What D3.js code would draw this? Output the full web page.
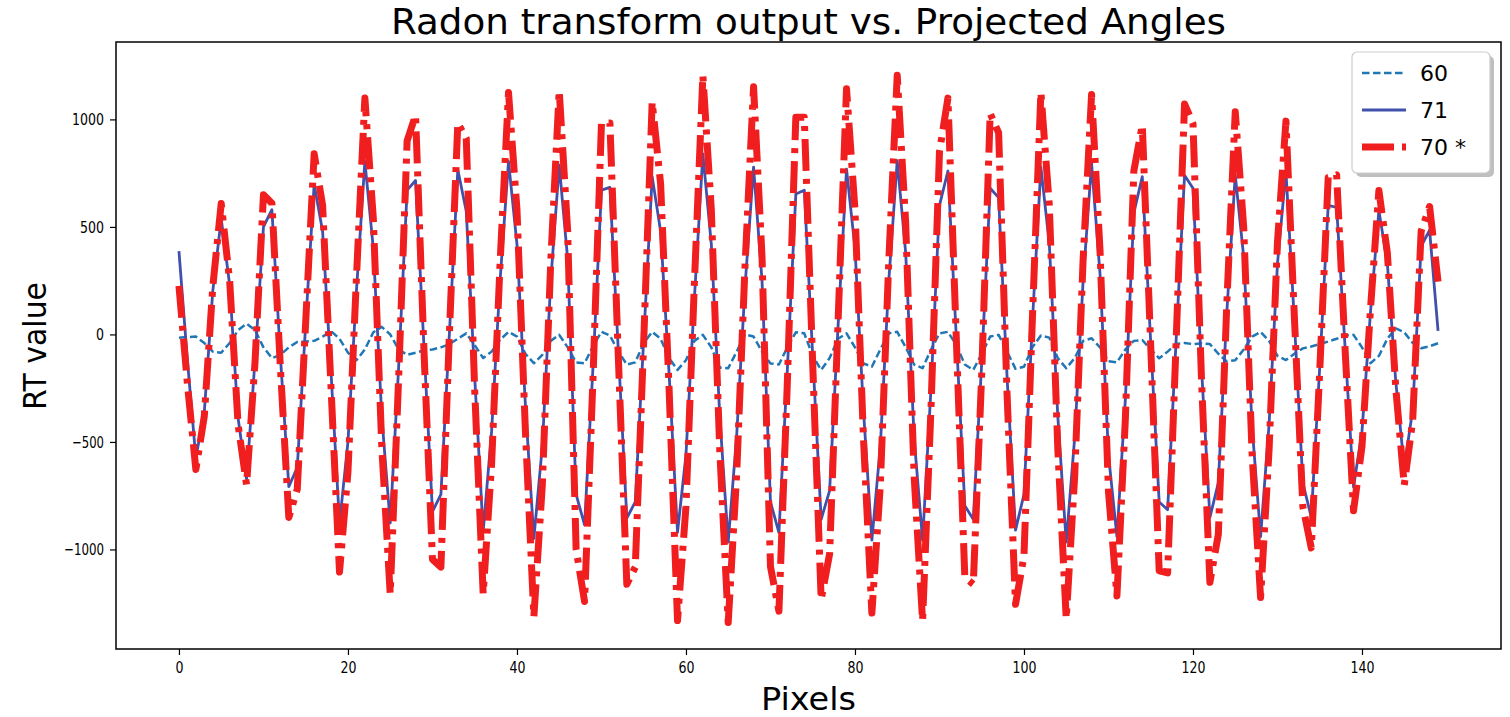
<!DOCTYPE html>
<html>
<head>
<meta charset="utf-8" />
<title>Radon transform output vs. Projected Angles</title>
<script src="https://d3js.org/d3.v7.min.js"></script>
<style>
	body { margin: 0; background: #fff; }
	text { font-family: "DejaVu Sans", sans-serif; }
</style>
</head>
<body>
<div id="chart"></div>
<script>

// x positions (pixels 0..149)
var pixels = d3.range(0, 150);

// angle 60 (dashed)
var rt60 = [
	-15, -12, -10, -40, -80, -85, -40, 20, 50, 20,
	-60, -110, -95, -60, -35, -33, -30, -10, 15, -20,
	-85, -120, -70, 10, 35, 0, -70, -95, -85, -75,
	-70, -60, -45, -20, 5, -50, -110, -80, -25, 12,
	-10, -90, -134, -95, -30, -2, -60, -130, -134, -55,
	12, -5, -80, -140, -130, -40, 12, -20, -110, -165,
	-120, -30, -2, -60, -155, -157, -80, 0, -10, -80,
	-135, -140, -60, 10, 5, -100, -165, -110, -20, 5,
	-60, -135, -150, -70, 5, 12, -60, -140, -157, -70,
	5, 12, -50, -140, -165, -90, -10, -2, -80, -160,
	-150, -60, -5, -15, -110, -157, -110, -30, -18, -60,
	-125, -130, -70, -30, -26, -70, -111, -80, -45, -40,
	-45, -42, -45, -90, -126, -120, -70, -10, 12, -30,
	-100, -119, -90, -65, -56, -45, -33, -20, -5, -2,
	-60, -134, -100, -20, 28, 10, -40, -64, -55, -41
];

// angle 71 (solid)
var rt71 = [
	387, -120, -575, -360, 200, 538, 230, -390, -673, -120,
	500, 580, -100, -708, -619, 50, 698, 480, -180, -880,
	-500, 200, 805, 400, -380, -877, -150, 671, 716, -60,
	-824, -744, 0, 766, 573, -200, -918, -450, 250, 805,
	420, -330, -949, -520, 250, 787, 350, -744, -886, -150,
	671, 684, -80, -854, -779, -20, 734, 480, -180, -920,
	-560, 170, 840, 420, -380, -966, -470, 230, 778, 250,
	-779, -922, -160, 653, 671, -100, -860, -726, 40, 769,
	400, -350, -957, -520, 250, 808, 380, -480, -957, -250,
	600, 760, -20, -797, -860, -130, 680, 636, -200, -910,
	-744, 60, 778, 420, -380, -966, -480, 250, 796, 280,
	-560, -940, -300, 565, 734, -40, -779, -815, -30, 740,
	680, -150, -851, -690, 100, 742, 360, -430, -940, -420,
	330, 760, 60, -690, -851, -150, 600, 591, -60, -710,
	-450, 100, 577, 330, -220, -618, -350, 410, 485, 16
];

// angle 70 * (dash-dot)
var rt70 = [
	226, -230, -628, -380, 220, 609, 250, -420, -699, -130,
	650, 610, -150, -851, -720, 60, 840, 600, -250, -1105,
	-640, 260, 1099, 540, -520, -1207, -200, 900, 1020, -80,
	-1046, -1082, 0, 983, 912, -260, -1207, -600, 330, 1125,
	580, -450, -1313, -700, 340, 1134, 480, -1000, -1242, -200,
	983, 983, -110, -1162, -1082, -30, 1081, 700, -250, -1331,
	-800, 240, 1205, 580, -540, -1340, -650, 330, 1152, 360,
	-1080, -1287, -220, 1010, 1010, -140, -1233, -1020, 60, 1143,
	580, -480, -1296, -700, 340, 1205, 520, -660, -1331, -340,
	850, 1099, -30, -1130, -1162, -180, 1027, 938, -280, -1255,
	-1030, 80, 1125, 600, -530, -1322, -660, 350, 1116, 390,
	-730, -1216, -390, 760, 974, -55, -1100, -1109, -40, 1072,
	980, -200, -1153, -930, 140, 1036, 500, -560, -1224, -540,
	430, 992, 80, -800, -993, -170, 730, 742, -70, -820,
	-520, 115, 669, 380, -250, -701, -400, 480, 595, 246
];

var seriesNames = ["60", "71", "70 *"];
var xTicks = [0, 20, 40, 60, 80, 100, 120, 140];
var yTicks = [-1000, -500, 0, 500, 1000];

// plot box (note: "top" is reserved on window, so use a margin object)
var width = 1510, height = 717;
var box = {left: 116, right: 1501, top: 42, bottom: 649};

var svg = d3.select("#chart")
	.append("svg")
	.attr("width", width)
	.attr("height", height);

var x = d3.scaleLinear()
	.domain([-7.45, 156.45])
	.range([box.left, box.right]);

var y = d3.scaleLinear()
	.domain([-1463, 1360])
	.range([box.bottom, box.top]);

svg.append("clipPath")
	.attr("id", "plotclip")
	.append("rect")
	.attr("x", box.left).attr("y", box.top)
	.attr("width", box.right - box.left).attr("height", box.bottom - box.top);

// axes
var xAxis = svg.append("g")
	.attr("transform", "translate(0," + box.bottom + ")")
	.call(d3.axisBottom(x).tickValues(xTicks).tickSize(6).tickPadding(6).tickFormat(d3.format("d")));

var yAxis = svg.append("g")
	.attr("transform", "translate(" + box.left + ",0)")
	.call(d3.axisLeft(y).tickValues(yTicks).tickSize(6).tickPadding(6).tickFormat(function(d) { return d < 0 ? "\u2212" + Math.abs(d) : d; }));

[xAxis, yAxis].forEach(function(a) {
	a.select(".domain").remove();
	a.selectAll("line").attr("stroke", "#000").attr("stroke-width", 1.2);
	a.selectAll("text")
		.attr("fill", "#000")
		.style("font-family", "'DejaVu Sans', sans-serif")
		.style("font-size", "16.5px")
		.attr("textLength", function() { return this.textContent.length * 8; })
		.attr("lengthAdjust", "spacingAndGlyphs");
});

// lines
var line = function(vals) {
	return d3.line()
		.x(function(d, i) { return x(pixels[i]); })
		.y(function(d) { return y(d); })(vals);
};

var plot = svg.append("g").attr("clip-path", "url(#plotclip)");

var styles = [
	{ data: rt60, color: "#1f77b4", w: 2.5, dash: "7.5,3.5" },
	{ data: rt71, color: "#4150ab", w: 2.8, dash: null },
	{ data: rt70, color: "#f01e1e", w: 7, dash: "32,8,5,8" }
];

styles.forEach(function(s) {
	plot.append("path")
		.attr("d", line(s.data))
		.attr("fill", "none")
		.attr("stroke", s.color)
		.attr("stroke-width", s.w)
		.attr("stroke-linejoin", "round")
		.attr("stroke-dasharray", s.dash);
});

// frame
svg.append("rect")
	.attr("x", box.left).attr("y", box.top)
	.attr("width", box.right - box.left).attr("height", box.bottom - box.top)
	.attr("fill", "none")
	.attr("stroke", "#000")
	.attr("stroke-width", 1.5);

// title + axis labels
svg.append("text")
	.attr("x", (box.left + box.right) / 2).attr("y", 34)
	.attr("text-anchor", "middle")
	.style("font-size", "36px")
	.attr("textLength", 835).attr("lengthAdjust", "spacingAndGlyphs")
	.text("Radon transform output vs. Projected Angles");

svg.append("text")
	.attr("x", (box.left + box.right) / 2).attr("y", 710)
	.attr("text-anchor", "middle")
	.style("font-size", "32px")
	.attr("textLength", 95).attr("lengthAdjust", "spacingAndGlyphs")
	.text("Pixels");

svg.append("text")
	.attr("transform", "translate(46,346) rotate(-90)")
	.attr("text-anchor", "middle")
	.style("font-size", "32px")
	.attr("textLength", 128).attr("lengthAdjust", "spacingAndGlyphs")
	.text("RT value");

// legend
var lg = svg.append("g").attr("transform", "translate(1352,52)");
lg.append("rect")
	.attr("x", 4).attr("y", 4).attr("width", 138).attr("height", 121)
	.attr("rx", 5).attr("fill", "#808080").attr("opacity", 0.5);
lg.append("rect")
	.attr("width", 138).attr("height", 121)
	.attr("rx", 5).attr("fill", "#fff").attr("stroke", "#cccccc").attr("stroke-width", 1.2);

seriesNames.forEach(function(name, i) {
	var s = styles[i];
	var ly = 21 + i * 37;
	lg.append("line")
		.attr("x1", 10).attr("x2", 54).attr("y1", ly).attr("y2", ly)
		.attr("stroke", s.color).attr("stroke-width", s.w)
		.attr("stroke-dasharray", s.dash);
	lg.append("text")
		.attr("x", 68).attr("y", ly + 8)
		.style("font-size", "22px")
		.text(name);
});

</script>
</body>
</html>
